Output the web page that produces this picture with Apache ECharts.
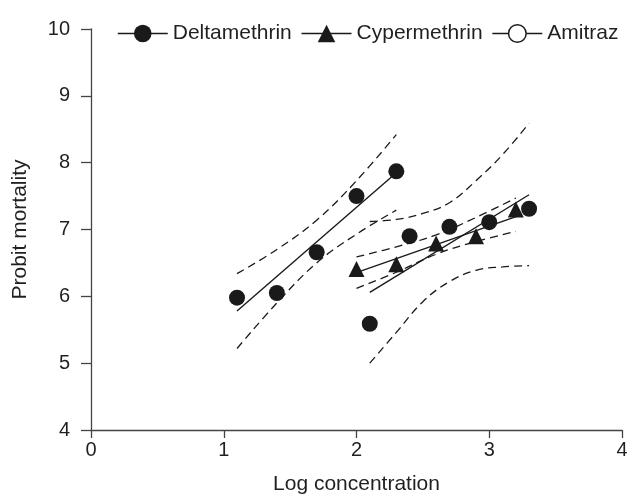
<!DOCTYPE html>
<html>
<head>
<meta charset="utf-8">
<script src="https://cdn.jsdelivr.net/npm/echarts@6/dist/echarts.min.js"></script>
<style>
  html, body { margin: 0; padding: 0; background: #fff; }
  #chart { width: 627px; height: 496px; }
</style>
</head>
<body>
<div id="chart"></div>
<script>
// observed points
var deltaX = [1.1, 1.4, 1.7, 2.0, 2.3];
var deltaY = [5.98, 6.05, 6.66, 7.50, 7.87];
var cyperX = [2.0, 2.3, 2.6, 2.9, 3.2];
var cyperY = [6.41, 6.48, 6.79, 6.90, 7.30];
var amitrazX = [2.1, 2.4, 2.7, 3.0, 3.3];
var amitrazY = [5.59, 6.90, 7.04, 7.11, 7.31];

// fitted lines (end points)
var deltaFitX = [1.1, 2.3];
var deltaFitY = [5.78, 7.85];
var cyperFitX = [2.02, 3.24];
var cyperFitY = [6.37, 7.22];
var amitrazFitX = [2.1, 3.3];
var amitrazFitY = [6.06, 7.52];

// confidence limits (dashed)
var deltaBandX = [1.1, 1.4, 1.7, 2.0, 2.3];
var deltaUpper = [6.34, 6.70, 7.14, 7.73, 8.42];
var deltaLower = [5.22, 5.90, 6.50, 6.93, 7.29];
var cyperBandX = [2.0, 2.3, 2.6, 2.9, 3.2];
var cyperUpper = [6.59, 6.74, 6.92, 7.18, 7.47];
var cyperLower = [6.12, 6.36, 6.63, 6.82, 6.97];
var amitrazBandX = [2.1, 2.3, 2.5, 2.7, 2.9, 3.1, 3.3];
var amitrazUpper = [7.12, 7.15, 7.24, 7.40, 7.73, 8.12, 8.59];
var amitrazLower = [5.00, 5.46, 5.92, 6.22, 6.39, 6.44, 6.46];

var xTicks = [0, 4, 1];
var yTicks = [4, 10, 1];

var ink = '#1a1a1a';
var textColor = '#231f20';
var fontFamily = '"Liberation Sans", Arial, sans-serif';

function pairs(xs, ys) {
  return xs.map(function (x, i) { return [x, ys[i]]; });
}

function pointSeries(name, xs, ys, symbol) {
  return {
    name: name,
    type: 'line',
    data: pairs(xs, ys),
    symbol: symbol,
    symbolSize: 16,
    showSymbol: true,
    lineStyle: { width: 0 },
    itemStyle: { color: ink },
    z: 5
  };
}

function fitSeries(xs, ys) {
  return {
    name: 'fit',
    type: 'line',
    data: pairs(xs, ys),
    symbol: 'none',
    lineStyle: { color: ink, width: 1.4 },
    z: 3
  };
}

function bandSeries(xs, ys) {
  return {
    name: 'band',
    type: 'line',
    data: pairs(xs, ys),
    symbol: 'none',
    smooth: 0.4,
    lineStyle: { color: ink, width: 1.3, type: [8, 5] },
    z: 2
  };
}

var chart = echarts.init(document.getElementById('chart'));
chart.setOption({
  animation: false,
  textStyle: { fontFamily: fontFamily },
  grid: { left: 91, right: 5, top: 29, bottom: 66, outerBoundsMode: 'none' },
  legend: {
    left: 112,
    top: 18,
    itemWidth: 50,
    itemHeight: 22,
    itemGap: 9,
    selectedMode: false,
    textStyle: { fontSize: 21, color: textColor, fontFamily: fontFamily },
    lineStyle: { width: 1.5, color: ink },
    data: [
      { name: 'Deltamethrin' },
      { name: 'Cypermethrin' },
      { name: 'Amitraz', itemStyle: { color: '#fff', borderColor: ink, borderWidth: 1.5 } }
    ]
  },
  xAxis: {
    type: 'value',
    min: xTicks[0],
    max: xTicks[1],
    interval: xTicks[2],
    name: 'Log concentration',
    nameLocation: 'middle',
    nameGap: 44,
    nameTextStyle: { fontSize: 21, color: textColor },
    splitLine: { show: false },
    axisLine: { lineStyle: { color: '#444', width: 1.3 } },
    axisTick: { length: 8, lineStyle: { color: '#444', width: 1.3 } },
    axisLabel: { fontSize: 20, color: textColor, margin: 10 }
  },
  yAxis: {
    type: 'value',
    min: yTicks[0],
    max: yTicks[1],
    interval: yTicks[2],
    name: 'Probit mortality',
    nameLocation: 'middle',
    nameGap: 60,
    nameTextStyle: { fontSize: 21, color: textColor },
    splitLine: { show: false },
    axisLine: { show: true, lineStyle: { color: '#444', width: 1.3 } },
    axisTick: { show: true, length: 10, lineStyle: { color: '#444', width: 1.3 } },
    axisLabel: { fontSize: 20, color: textColor, margin: 21 }
  },
  series: [
    bandSeries(deltaBandX, deltaUpper),
    bandSeries(deltaBandX, deltaLower),
    bandSeries(cyperBandX, cyperUpper),
    bandSeries(cyperBandX, cyperLower),
    bandSeries(amitrazBandX, amitrazUpper),
    bandSeries(amitrazBandX, amitrazLower),
    fitSeries(deltaFitX, deltaFitY),
    fitSeries(cyperFitX, cyperFitY),
    fitSeries(amitrazFitX, amitrazFitY),
    pointSeries('Deltamethrin', deltaX, deltaY, 'circle'),
    pointSeries('Cypermethrin', cyperX, cyperY, 'triangle'),
    pointSeries('Amitraz', amitrazX, amitrazY, 'circle')
  ]
});
</script>
</body>
</html>
